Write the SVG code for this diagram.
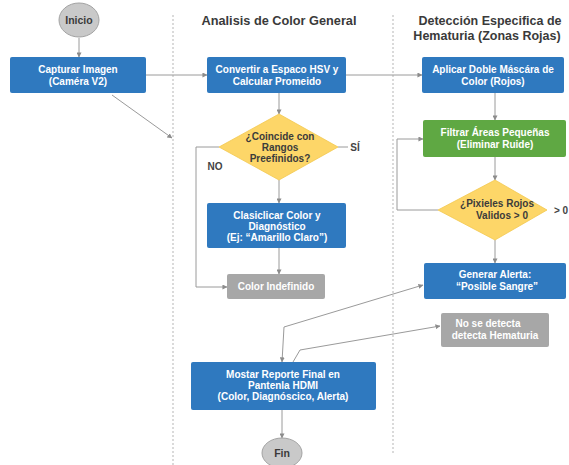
<svg xmlns="http://www.w3.org/2000/svg" width="569" height="465" viewBox="0 0 569 465">
<defs>
<marker id="ah" viewBox="0 0 6 6" refX="5.5" refY="3" markerWidth="5" markerHeight="5" orient="auto" markerUnits="userSpaceOnUse">
<path d="M0,0 L6,3 L0,6 z" fill="#8c8c8c"/>
</marker>
<marker id="ahs" viewBox="0 0 6 6" refX="0.5" refY="3" markerWidth="5" markerHeight="5" orient="auto" markerUnits="userSpaceOnUse">
<path d="M6,0 L0,3 L6,6 z" fill="#8c8c8c"/>
</marker>
</defs>
<style>
text{font-family:"Liberation Sans",Arial,sans-serif;font-weight:bold;text-anchor:middle}
.t{font-size:10px;fill:#ffffff}
.d{font-size:10px;fill:#3b3b3b}
.h{font-size:13.5px;fill:#3a3a3a}
.h2{font-size:12.5px;fill:#3a3a3a}
.lbl{font-size:10px;fill:#444444}
.blue{fill:#2f79bf}
.green{fill:#5fa843}
.gray{fill:#a7a7a7}
.dia{fill:#fdd668;stroke:#f2c84e;stroke-width:0.8}
.term{fill:#c9c9c9;stroke:#a3a3a3;stroke-width:1}
.c{fill:none;stroke:#9a9a9a;stroke-width:1}
.lane{fill:none;stroke:#b5b5b5;stroke-width:1;stroke-dasharray:2 2}
</style>
<rect width="569" height="465" fill="#ffffff"/>

<g id="lanes">
<line class="lane" x1="173" y1="15" x2="173" y2="465"/>
<line class="lane" x1="393" y1="15" x2="393" y2="455"/>
</g>

<g id="titles">
<text class="h" x="279" y="25" textLength="155" lengthAdjust="spacingAndGlyphs">Analisis de Color General</text>
<text class="h2" x="490" y="25">Detección Especifica de</text>
<text class="h2" x="487" y="40">Hematuria (Zonas Rojas)</text>
</g>

<g id="connectors">
<path class="c" d="M79,38 L79,57" marker-end="url(#ah)"/>
<path class="c" d="M146,75 L207,75" marker-end="url(#ah)"/>
<path class="c" d="M112,95 L172,138" marker-end="url(#ah)"/>
<path class="c" d="M346,75 L422,75" marker-end="url(#ah)"/>
<path class="c" d="M279,93 L279,114" marker-end="url(#ah)"/>
<path class="c" d="M338,147 L348,147"/>
<path class="c" d="M219,147 L196,147 L196,287 L227,287" marker-end="url(#ah)"/>
<path class="c" d="M279,180 L279,203" marker-end="url(#ah)"/>
<path class="c" d="M279,248 L279,274" marker-end="url(#ah)"/>
<path class="c" d="M495,93 L495,120" marker-end="url(#ah)"/>
<path class="c" d="M495,157 L495,180" marker-end="url(#ah)"/>
<path class="c" d="M438,210 L397,210 L397,139 L423,139" marker-end="url(#ah)"/>
<path class="c" d="M495,240 L495,263" marker-end="url(#ah)"/>
<path class="c" d="M423,285 L284,327 L282,362" marker-start="url(#ahs)" marker-end="url(#ah)"/>
<path class="c" d="M293,362 L300,350 L440,326" marker-end="url(#ah)"/>
<path class="c" d="M282,410 L282,438" marker-end="url(#ah)"/>
</g>

<g id="inicio">
<ellipse class="term" cx="79" cy="20" rx="20" ry="17"/>
<text class="d" x="79" y="24" style="font-size:10.5px">Inicio</text>
</g>

<g id="capturar">
<rect class="blue" x="10" y="57" width="136" height="36" rx="2"/>
<text class="t" x="78" y="73">Capturar Imagen</text>
<text class="t" x="78" y="85">(Caméra V2)</text>
</g>

<g id="convertir">
<rect class="blue" x="207" y="57" width="139" height="36" rx="2"/>
<text class="t" x="277" y="73">Convertir a Espaco HSV y</text>
<text class="t" x="277" y="85">Calcular Promeido</text>
</g>

<g id="coincide">
<polygon class="dia" points="279,114 338,147 279,180 219,147"/>
<text class="d" x="280" y="140">¿Coincide con</text>
<text class="d" x="280" y="151">Rangos</text>
<text class="d" x="280" y="162">Preefinidos?</text>
</g>
<text class="lbl" x="355" y="151">SÍ</text>
<text class="lbl" x="215" y="170">NO</text>

<g id="clasificar">
<rect class="blue" x="207" y="203" width="139" height="45" rx="2"/>
<text class="t" x="277" y="219">Clasiclicar Color y</text>
<text class="t" x="277" y="230">Diagnóstico</text>
<text class="t" x="277" y="241">(Ej: “Amarillo Claro”)</text>
</g>

<g id="indefinido">
<rect class="gray" x="227" y="274" width="98" height="25" rx="2"/>
<text class="t" x="276" y="290">Color Indefinido</text>
</g>

<g id="aplicar">
<rect class="blue" x="422" y="57" width="142" height="36" rx="2"/>
<text class="t" x="493" y="73">Aplicar Doble Máscára de</text>
<text class="t" x="493" y="85">Color (Rojos)</text>
</g>

<g id="filtrar">
<rect class="green" x="423" y="120" width="143" height="37" rx="2"/>
<text class="t" x="495" y="136">Filtrar Áreas Pequeñas</text>
<text class="t" x="495" y="148">(Eliminar Ruide)</text>
</g>

<g id="pixieles">
<polygon class="dia" points="495,180 547,210 495,240 438,210"/>
<text class="d" x="497" y="207">¿Pixieles Rojos</text>
<text class="d" x="502" y="219">Validos &gt; 0</text>
</g>
<text class="lbl" x="561" y="214">&gt; 0</text>

<g id="generar">
<rect class="blue" x="424" y="263" width="142" height="36" rx="2"/>
<text class="t" x="495" y="278">Generar Alerta:</text>
<text class="t" x="497" y="290">“Posible Sangre”</text>
</g>

<g id="nodetecta">
<rect class="gray" x="441" y="313" width="108" height="34" rx="2"/>
<text class="t" x="488" y="327">No se detecta</text>
<text class="t" x="495" y="339">detecta Hematuria</text>
</g>

<g id="mostar">
<rect class="blue" x="191" y="362" width="185" height="48" rx="2"/>
<text class="t" x="283" y="378">Mostar Reporte Final en</text>
<text class="t" x="283" y="389">Pantenla HDMI</text>
<text class="t" x="283" y="400">(Color, Diagnóscico, Alerta)</text>
</g>

<g id="fin">
<ellipse class="term" cx="282" cy="453" rx="20" ry="15"/>
<text class="d" x="282" y="457" style="font-size:10.5px">Fin</text>
</g>
</svg>
